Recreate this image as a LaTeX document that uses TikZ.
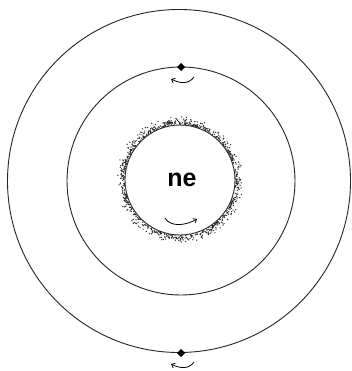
\documentclass[tikz,border=0pt]{standalone}
\usepackage{fontspec}
\setmainfont{Liberation Sans}
\usetikzlibrary{arrows.meta,calc}
\tikzset{
  ring/.style={draw=black!85, line width=0.9pt},
  spin/.style={draw=black, line width=0.8pt, -{Straight Barb[length=3pt,width=5pt]}},
  pin/.style={fill=black, draw=none}
}
\begin{document}
\begin{tikzpicture}[x=1pt,y=-1pt]
\useasboundingbox (0,0) rectangle (352,371);
\fill[white] (0,0) rectangle (352,371);
% circles
\draw[ring] (179,181) circle[radius=171.5];
\draw[ring] (181,181) circle[radius=114];
% stippled halo
\pgfmathsetseed{7}
\foreach \i in {1,...,760}{
  \pgfmathsetmacro{\ang}{rnd*360}
  \pgfmathsetmacro{\rr}{55.8+8.5*rnd*rnd}
  \fill[black!85] ($(180,180)+(\ang:\rr)$) circle[radius=0.7];
}
\draw[ring] (180,180) circle[radius=55];
\node[font=\bfseries\fontsize{25}{25}\selectfont, inner sep=0pt] (ne) at (182,180) {ne};
% pins
\coordinate (ptop) at (181,67);
\coordinate (pbot) at (181,353);
\fill[pin] (ptop) +(0,-4) -- +(4,0) -- +(0,4) -- +(-4,0) -- cycle;
\fill[pin] (pbot) +(0,-4) -- +(4,0) -- +(0,4) -- +(-4,0) -- cycle;
% spin arrows
\draw[spin] ($(ptop)+(13,10)$) .. controls ($(ptop)+(8,17)$) and ($(ptop)+(0,17)$) .. ($(ptop)+(-10,12)$);
\draw[spin] ($(pbot)+(13,9)$) .. controls ($(pbot)+(8,16)$) and ($(pbot)+(0,16)$) .. ($(pbot)+(-10,11)$);
\coordinate (ia) at (165,218);
\coordinate (ib) at (197,219);
\draw[spin] (ia) .. controls (170,227) and (185,226) .. (ib);
\end{tikzpicture}
\end{document}
